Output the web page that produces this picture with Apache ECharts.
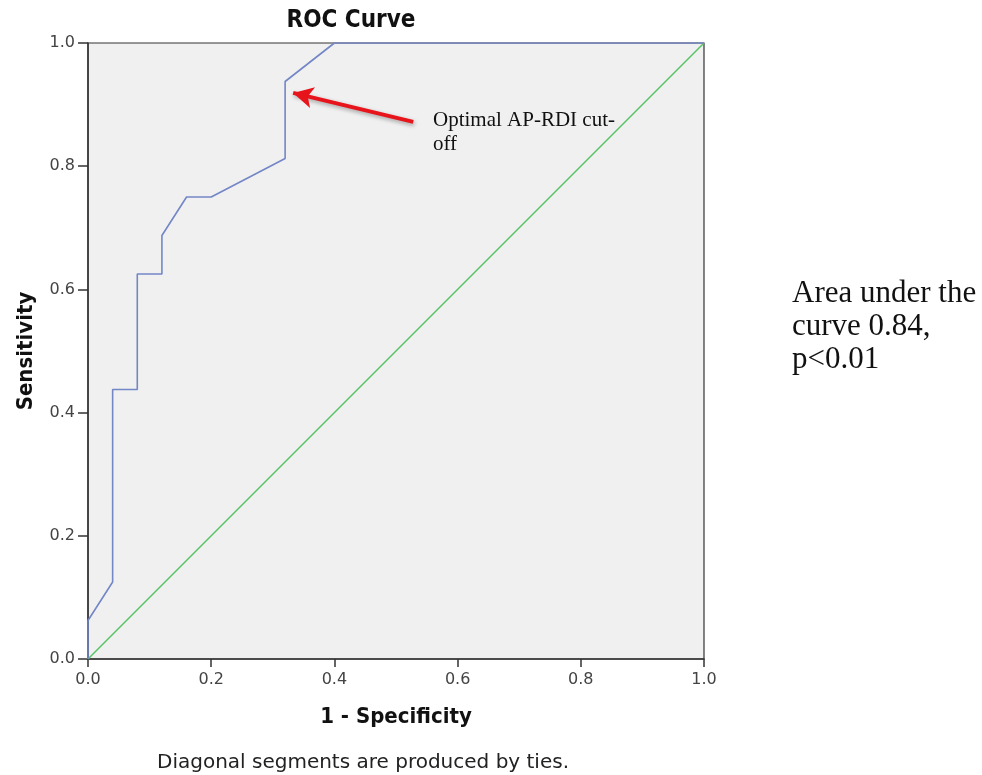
<!DOCTYPE html>
<html><head><meta charset="utf-8">
<script src="https://cdn.jsdelivr.net/npm/echarts@6/dist/echarts.min.js"></script>
<style>html,body{margin:0;padding:0;background:#fff}#c{width:982px;height:775px}</style>
</head><body><div id="c"></div>
<script>
const rocFPR = [0, 0, 0.04, 0.04, 0.08, 0.08, 0.12, 0.12, 0.16, 0.20, 0.32, 0.32, 0.40, 1.0];
const rocTPR = [0, 0.0625, 0.125, 0.4375, 0.4375, 0.625, 0.625, 0.6875, 0.75, 0.75, 0.8125, 0.9375, 1.0, 1.0];
const refX = [0, 1];
const refY = [0, 1];
const arrowFrom = [0.528, 0.872];
const arrowTo = [0.333, 0.919];
const tickLabels = ['0.0','0.2','0.4','0.6','0.8','1.0'];

const chart = echarts.init(document.getElementById('c'), null, {renderer:'canvas'});
const sans = '"DejaVu Sans Condensed","DejaVu Sans",sans-serif';
const sansN = '"DejaVu Sans",sans-serif';
const serif = '"Liberation Serif","DejaVu Serif",serif';
chart.setOption({
  animation:false,
  backgroundColor:'#fff',
  grid:{left:88, top:43, width:616, height:616, show:true, backgroundColor:'#f0f0f0', borderColor:'#333', borderWidth:1.2},
  xAxis:{type:'value', min:0, max:1, interval:0.2,
    name:'1 - Specificity', nameLocation:'middle', nameGap:47,
    nameTextStyle:{fontFamily:sans, fontWeight:'bold', fontSize:22, color:'#111'},
    axisLine:{show:true, onZero:false, lineStyle:{color:'#333', width:1.5}},
    axisTick:{show:true, length:8, lineStyle:{color:'#333', width:1.5}},
    axisLabel:{fontFamily:sansN, fontSize:16, color:'#444', margin:13,
      formatter:v=>tickLabels[Math.round(v*5)]},
    splitLine:{show:false}},
  yAxis:{type:'value', min:0, max:1, interval:0.2,
    name:'Sensitivity', nameLocation:'middle', nameGap:51, nameRotate:90,
    nameTextStyle:{fontFamily:sans, fontWeight:'bold', fontSize:22, color:'#111'},
    axisLine:{show:true, onZero:false, lineStyle:{color:'#333', width:1.5}},
    axisTick:{show:true, length:10, lineStyle:{color:'#333', width:1.5}},
    axisLabel:{fontFamily:sansN, fontSize:16, color:'#444', margin:13,
      formatter:v=>tickLabels[Math.round(v*5)]},
    splitLine:{show:false}},
  series:[
    {type:'line', data:refX.map((x,i)=>[x,refY[i]]), symbol:'none',
      lineStyle:{color:'#5cc46a', width:1.6}, z:2},
    {type:'line', data:rocFPR.map((x,i)=>[x,rocTPR[i]]), symbol:'none',
      lineStyle:{color:'#7386c6', width:1.6}, z:3,
      markLine:{silent:true, symbol:['none','arrow'], symbolSize:[16,20],
        label:{show:false},
        lineStyle:{color:'#e8141b', width:4, type:'solid', shadowColor:'rgba(0,0,0,0.35)', shadowBlur:4, shadowOffsetX:1, shadowOffsetY:2},
        data:[[{coord:arrowFrom},{coord:arrowTo}]]}}
  ],
  graphic:[
    {type:'text', x:351, y:21, style:{text:'ROC Curve', fontFamily:sans, fontWeight:'bold', fontSize:24, fill:'#111', align:'center', verticalAlign:'middle', textAlign:'center', textVerticalAlign:'middle'}},
    {type:'text', x:433, y:108, style:{text:'Optimal AP-RDI cut-\noff', fontFamily:serif, fontSize:21, lineHeight:24, fill:'#111'}},
    {type:'text', x:792, y:277, style:{text:'Area under the\ncurve 0.84,\np<0.01', fontFamily:serif, fontSize:31, lineHeight:33, fill:'#111'}},
    {type:'text', x:363, y:763, style:{text:'Diagonal segments are produced by ties.', fontFamily:sansN, fontSize:20, fill:'#222', align:'center', verticalAlign:'middle', textAlign:'center', textVerticalAlign:'middle'}}
  ]
});
</script></body></html>
